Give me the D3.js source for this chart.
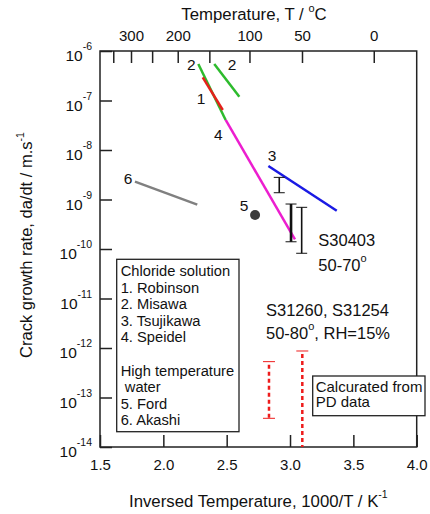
<!DOCTYPE html>
<html>
<head>
<meta charset='utf-8'>
<style>
body { margin: 0; background: #fff; }
svg { font-family: 'Liberation Sans', Arial, sans-serif; fill: #111; }
.frame { fill: none; stroke: #222; stroke-width: 1.5px; }
.axis path.domain { display: none; }
.axis line { stroke: #222; stroke-width: 1.5px; }
.axis text { font-size: 15px; fill: #111; font-family: 'Liberation Sans', Arial, sans-serif; }
.trend { fill: none; stroke-width: 2.5px; }
.box { fill: #fff; stroke: #222; stroke-width: 1.3px; }
.note { font-size: 16.5px; }
.small { font-size: 14.7px; white-space: pre; }
</style>
<script src='https://d3js.org/d3.v7.min.js'></script>
</head>
<body>
<svg id='chart1' width='430' height='514'></svg>
<script>
// x: 1000/T (1/K), y: crack growth rate (m/s)
var trendNames = ['2', '1', '4', '2', '3', '6'];
var trendX = [[2.276, 2.492], [2.311, 2.469], [2.492, 3.039], [2.402, 2.600], [2.829, 3.369], [1.776, 2.268]];
var trendY = [[5.46e-7, 4.04e-8], [2.94e-7, 6.43e-8], [4.04e-8, 1.57e-10], [5.46e-7, 1.19e-7], [4.75e-9, 5.94e-10], [2.29e-9, 7.9e-10]];
var trendColors = ['#2dbb2d', '#e4211b', '#ec1ecf', '#2dbb2d', '#1a1ae4', '#808080'];

// Ford point
var fordX = [2.724];
var fordY = [4.86e-10];

// S30403 50-70 C ranges
var barX = [2.915, 3.008, 3.092];
var barHi = [2.8e-9, 8.1e-10, 6.95e-10];
var barLo = [1.37e-9, 1.4e-10, 8.2e-11];
var barWidth = [1.6, 2.6, 1.6];

// S31260, S31254, calculated from PD data
var pdX = [2.834, 3.097];
var pdHi = [5.3e-13, 8.7e-13];
var pdLo = [3.8e-14, 1e-14];
var pdLowCap = [true, false];

var xTicks = [1.5, 2.0, 2.5, 3.0, 3.5, 4.0];
var yExponents = [-6, -7, -8, -9, -10, -11, -12, -13, -14];
var celsiusTicks = [350, 300, 250, 200, 150, 100, 50, 0];
var celsiusLabels = [300, 200, 100, 50, 0];

// numbered labels near the trends
var labelText = ['2', '2', '1', '4', '3', '5', '6'];
var labelX = [2.221, 2.542, 2.297, 2.434, 2.858, 2.637, 1.721];
var labelY = [4.13e-7, 4.13e-7, 8.4e-8, 1.56e-8, 6.08e-9, 5.86e-10, 2.06e-9];

var legendLines = ['Chloride solution', '1. Robinson', '2. Misawa', '3. Tsujikawa', '4. Speidel', '',
  'High temperature', ' water', '5. Ford', '6. Akashi'];
var pdLines = ['Calcurated from', 'PD data'];

var svg = d3.select('#chart1');
var margin = {top: 51, right: 13.3, bottom: 67, left: 100};
var width = +svg.attr('width') - margin.left - margin.right;
var height = +svg.attr('height') - margin.top - margin.bottom;

var x = d3.scaleLinear().domain([1.5, 4.0]).range([margin.left, margin.left + width]);
var y = d3.scaleLog().domain([1e-14, 1e-6]).range([margin.top + height, margin.top]);

svg.append('rect').attr('width', 430).attr('height', 514).attr('fill', '#fff');

// bottom axis
svg.append('g').
    attr('class', 'axis').
    attr('transform', 'translate(0,' + (margin.top + height) + ')').
    call(d3.axisBottom(x).tickValues(xTicks).tickFormat(d3.format('.1f')).
      tickSizeInner(-12).tickSizeOuter(0).tickPadding(12));

// top axis in Celsius
var celsiusToX = function(c) { return 1000 / (c + 273.15); };
svg.append('g').
    attr('class', 'axis').
    attr('transform', 'translate(0,' + margin.top + ')').
    call(d3.axisTop(x).tickValues(celsiusTicks.map(celsiusToX)).
      tickFormat(function(d, i) {
        var c = celsiusTicks[i];
        return celsiusLabels.indexOf(c) >= 0 ? String(c) : '';
      }).
      tickSizeInner(-12).tickSizeOuter(0).tickPadding(10));

// left axis, labels drawn as 10^n
var leftAxis = svg.append('g').
    attr('class', 'axis').
    attr('transform', 'translate(' + margin.left + ',0)').
    call(d3.axisLeft(y).tickValues(yExponents.map(function(e) { return Math.pow(10, e); })).
      tickFormat('').tickSizeInner(-12).tickSizeOuter(0));

yExponents.forEach(function(e) {
  var t = svg.append('text').
      attr('x', margin.left - 8).
      attr('y', y(Math.pow(10, e)) + 10).
      attr('text-anchor', 'end').
      style('font-size', '15.5px');
  t.append('tspan').text('10');
  t.append('tspan').attr('dy', -11).style('font-size', '10.5px').text(String(e).replace('-', '-'));
});

svg.append('rect').attr('class', 'frame').
    attr('x', margin.left).attr('y', margin.top).
    attr('width', width).attr('height', height);

// axis titles
var xTitle = svg.append('text').
    attr('x', margin.left + width / 2).attr('y', 507).
    attr('text-anchor', 'middle').style('font-size', '16.8px');
xTitle.append('tspan').text('Inversed Temperature, 1000/T / K');
xTitle.append('tspan').attr('dy', -9).style('font-size', '10.5px').text('-1');

var topTitle = svg.append('text').
    attr('x', 254).attr('y', 20).
    attr('text-anchor', 'middle').style('font-size', '16.8px');
topTitle.append('tspan').text('Temperature, T / ');
topTitle.append('tspan').attr('dy', -8).style('font-size', '11px').text('o');
topTitle.append('tspan').attr('dy', 8).text('C');

var yTitle = svg.append('text').
    attr('transform', 'translate(32,' + (margin.top + height / 2 - 4) + ') rotate(-90)').
    attr('text-anchor', 'middle').style('font-size', '16.5px');
yTitle.append('tspan').text('Crack growth rate, da/dt / m.s');
yTitle.append('tspan').attr('dy', -8).style('font-size', '10.5px').text('-1');

// trend lines
var line1 = d3.line().
    x(function(d) { return x(d[0]); }).
    y(function(d) { return y(d[1]); });

svg.selectAll('.trend').
    data(trendX.map(function(xs, i) {
      return {pts: xs.map(function(v, j) { return [v, trendY[i][j]]; }), color: trendColors[i]};
    })).
    enter().append('path').
    attr('class', 'trend').
    attr('stroke', function(d) { return d.color; }).
    attr('d', function(d) { return line1(d.pts); });

// black range bars
barX.forEach(function(v, i) {
  var g = svg.append('g').attr('stroke', '#111');
  g.append('line').attr('x1', x(v)).attr('x2', x(v)).
      attr('y1', y(barHi[i])).attr('y2', y(barLo[i])).
      attr('stroke-width', barWidth[i]);
  [barHi[i], barLo[i]].forEach(function(b) {
    g.append('line').attr('x1', x(v) - 5.5).attr('x2', x(v) + 5.5).
        attr('y1', y(b)).attr('y2', y(b)).attr('stroke-width', 1);
  });
});

// Ford
svg.selectAll('.ford').
    data(fordX).
    enter().append('circle').
    attr('cx', function(d) { return x(d); }).
    attr('cy', function(d, i) { return y(fordY[i]); }).
    attr('r', 5).attr('fill', '#3a3a3a');

// red dashed PD ranges
pdX.forEach(function(v, i) {
  var g = svg.append('g').attr('stroke', '#ee1c1c');
  g.append('line').attr('x1', x(v)).attr('x2', x(v)).
      attr('y1', y(pdHi[i]) + 3).attr('y2', y(pdLo[i])).
      attr('stroke-width', 2.5).attr('stroke-dasharray', '4,3');
  g.append('line').attr('x1', x(v) - 6).attr('x2', x(v) + 6).
      attr('y1', y(pdHi[i])).attr('y2', y(pdHi[i])).attr('stroke-width', 1);
  if (pdLowCap[i]) {
    g.append('line').attr('x1', x(v) - 6).attr('x2', x(v) + 6).
        attr('y1', y(pdLo[i])).attr('y2', y(pdLo[i])).attr('stroke-width', 1);
  }
});

// numbered labels
svg.selectAll('.num').
    data(labelText).
    enter().append('text').
    attr('x', function(d, i) { return x(labelX[i]); }).
    attr('y', function(d, i) { return y(labelY[i]); }).
    attr('text-anchor', 'middle').
    style('font-size', '15.5px').
    text(function(d) { return d; });

// notes
svg.append('text').attr('class', 'note').attr('x', 318.3).attr('y', 246).text('S30403');
var n2 = svg.append('text').attr('class', 'note').attr('x', 318.3).attr('y', 271);
n2.append('tspan').text('50-70');
n2.append('tspan').attr('dy', -9).style('font-size', '11px').text('o');

svg.append('text').attr('class', 'note').attr('x', 266).attr('y', 316).text('S31260, S31254');
var n4 = svg.append('text').attr('class', 'note').attr('x', 266).attr('y', 339);
n4.append('tspan').text('50-80');
n4.append('tspan').attr('dy', -9).style('font-size', '11px').text('o');
n4.append('tspan').attr('dy', 9).text(', RH=15%');

// legend box
svg.append('rect').attr('class', 'box').
    attr('x', 116.7).attr('y', 259.3).attr('width', 122.3).attr('height', 172.4);
svg.selectAll('.leg').
    data(legendLines).
    enter().append('text').
    attr('class', 'small').
    attr('x', 120.7).
    attr('y', function(d, i) { return 276 + i * 16.6; }).
    text(function(d) { return d; });

// PD note box
svg.append('rect').attr('class', 'box').
    attr('x', 312.7).attr('y', 376).attr('width', 112.3).attr('height', 39.7);
svg.selectAll('.pd').
    data(pdLines).
    enter().append('text').
    attr('class', 'small').
    style('font-size', '15px').
    attr('x', 315.7).
    attr('y', function(d, i) { return 391.7 + i * 15.6; }).
    text(function(d) { return d; });
</script>
</body>
</html>
